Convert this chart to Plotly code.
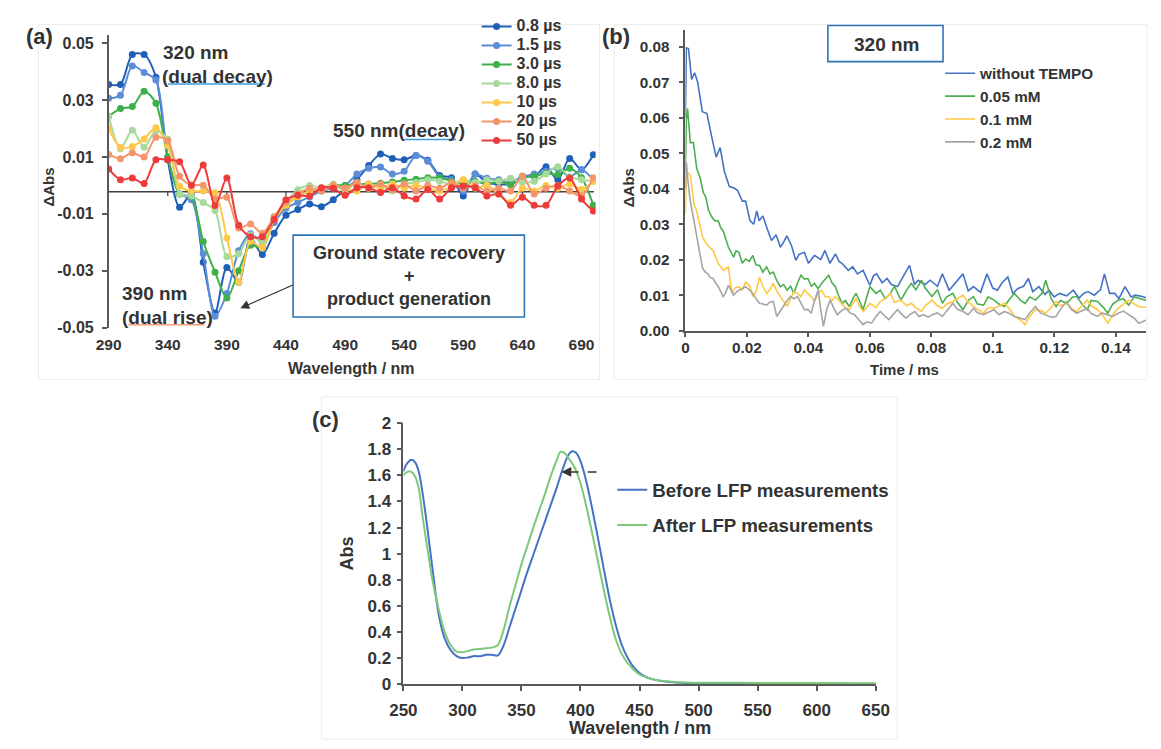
import plotly.graph_objects as go

W, H = 1161, 749
FONT = "Liberation Sans, Arial, sans-serif"
TXT = "#333333"
AX = "#595959"

# ---------------- Panel (a) data ----------------
wl_a = [290, 300, 310, 320, 330, 340, 350, 360, 370, 380, 390, 400, 410, 420, 430, 440, 450, 460, 470, 480,
        490, 500, 510, 520, 530, 540, 550, 560, 570, 580, 590, 600, 610, 620, 630, 640, 650, 660, 670, 680, 690, 700]
a_names = ["0.8 µs", "1.5 µs", "3.0 µs", "8.0 µs", "10 µs", "20 µs", "50 µs"]
a_colors = ["#1f5fb8", "#5b8ed6", "#3db04a", "#a6d99c", "#ffc84a", "#f4956b", "#ee3b3b"]
a_08 = [0.0355, 0.0355, 0.046, 0.046, 0.038, 0.009, -0.0077, -0.003, -0.027, -0.0448, -0.0288, -0.034, -0.0185, -0.0243,
        -0.0168, -0.0105, -0.0085, -0.0065, -0.0075, -0.005, -0.0015, 0.002, 0.007, 0.011, 0.0095, 0.009, 0.0105, 0.0088,
        0.0035, 0.0027, -0.0037, 0.004, 0.001, 0.0004, 0.0005, 0.0032, 0.0032, 0.0066, 0.002, 0.0095, 0.0055, 0.0108]
a_15 = [0.0306, 0.0317, 0.042, 0.0397, 0.037, 0.010, -0.003, -0.005, -0.024, -0.046, -0.038, -0.023, -0.017, -0.020,
        -0.013, -0.008, -0.006, -0.004, -0.002, -0.001, 0.000, 0.004, 0.006, 0.0065, 0.004, 0.005, 0.0105, 0.0085,
        0.003, 0.002, -0.002, 0.004, 0.0025, 0.002, 0.001, 0.003, 0.004, 0.005, 0.006, 0.003, 0.0055, 0.002]
a_30 = [0.0243, 0.027, 0.0277, 0.0331, 0.0289, 0.010, -0.003, -0.004, -0.0197, -0.0305, -0.0396, -0.030, -0.021, -0.022,
        -0.012, -0.007, -0.004, -0.002, -0.001, 0.000, 0.000, 0.0005, 0.0005, 0.0008, 0.0012, 0.0018, 0.0022, 0.0027,
        0.0027, 0.0015, 0.0005, 0.0015, 0.0004, 0.0015, 0.0002, 0.0027, 0.0032, 0.0043, 0.0038, 0.006, 0.0027, -0.007]
a_80 = [0.0243, 0.0129, 0.0194, 0.0134, 0.0192, 0.0163, -0.003, -0.0037, -0.006, -0.0088, -0.025, -0.024, -0.0174, -0.020,
        -0.011, -0.006, -0.0015, 0.000, -0.001, 0.0005, -0.002, 0.001, -0.001, 0.000, -0.002, 0.0005, 0.001, 0.002,
        0.0015, 0.0005, 0.002, 0.001, 0.002, 0.0015, 0.0025, 0.001, 0.0015, 0.004, 0.0066, 0.003, 0.002, 0.0015]
a_10 = [0.020, 0.0134, 0.0137, 0.0163, 0.0203, 0.014, -0.0003, -0.002, -0.002, -0.0026, -0.0185, -0.034, -0.0196, -0.022,
        -0.012, -0.007, -0.004, -0.002, -0.001, 0.000, -0.001, -0.002, 0.0005, -0.001, 0.0005, -0.001, 0.000, -0.001,
        -0.002, -0.0005, 0.002, -0.001, 0.000, -0.003, -0.006, -0.001, -0.002, 0.000, -0.001, 0.0005, -0.0014, 0.0015]
a_20 = [0.0109, 0.0094, 0.0115, 0.010, 0.0169, 0.0157, 0.0032, 0.0001, 0.0001, -0.0048, -0.0042, -0.015, -0.0136, -0.0168,
        -0.011, -0.006, -0.003, -0.001, -0.002, 0.000, -0.001, 0.001, -0.001, 0.0005, -0.0015, 0.0005, -0.002, 0.000,
        -0.001, 0.001, -0.001, 0.000, -0.002, -0.001, -0.002, 0.0032, -0.003, -0.001, 0.000, -0.002, -0.0037, 0.0027]
a_50 = [0.0058, 0.002, 0.0026, 0.0007, 0.009, 0.009, 0.0083, 0.0001, 0.0072, -0.0071, 0.0026, -0.014, -0.018, -0.018,
        -0.012, -0.005, -0.0035, -0.0037, -0.0008, -0.001, -0.0035, -0.0008, -0.0008, -0.0025, -0.0008, -0.0037, -0.0048,
        -0.0014, -0.0048, -0.0008, -0.0002, -0.0008, -0.0037, -0.003, -0.007, -0.0042, -0.007, -0.007, -0.0002, 0.0026,
        -0.0048, -0.009]
a_series = [a_08, a_15, a_30, a_80, a_10, a_20, a_50]
a_xticks = [290, 340, 390, 440, 490, 540, 590, 640, 690]
a_yticks = [-0.05, -0.03, -0.01, 0.01, 0.03, 0.05]
a_ytext = ["-0.05", "-0.03", "-0.01", "0.01", "0.03", "0.05"]
a_baseline = -0.0022

# ---------------- Panel (b) data ----------------
b_names = ["without TEMPO", "0.05 mM", "0.1 mM", "0.2 mM"]
b_colors = ["#4472c4", "#4caf50", "#ffc845", "#a5a5a5"]
t_blue = [0, 0.0003, 0.001, 0.002, 0.003, 0.004, 0.0055, 0.007, 0.0085, 0.010, 0.0113, 0.0127, 0.0143, 0.0159, 0.017,
          0.0185, 0.0196, 0.021, 0.0222, 0.0232, 0.024, 0.0252, 0.0265, 0.028, 0.0295, 0.0309, 0.032, 0.033, 0.0345,
          0.0359, 0.037, 0.0387, 0.040, 0.042, 0.044, 0.0454, 0.047, 0.0488, 0.050, 0.051, 0.053, 0.0544, 0.056, 0.0578,
          0.060, 0.0612, 0.0622, 0.064, 0.0656, 0.067, 0.069, 0.071, 0.0729, 0.0745, 0.0757, 0.078, 0.0796, 0.082,
          0.0836, 0.0858, 0.088, 0.0903, 0.092, 0.0937, 0.096, 0.0981, 0.100, 0.1015, 0.103, 0.1049, 0.1065, 0.1082,
          0.110, 0.1116, 0.113, 0.115, 0.117, 0.1183, 0.120, 0.1217, 0.124, 0.1262, 0.128, 0.1296, 0.131, 0.133, 0.135,
          0.1363, 0.138, 0.1397, 0.141, 0.143, 0.145, 0.1464, 0.1486, 0.150]
v_blue = [0.060, 0.0797, 0.0795, 0.0708, 0.0727, 0.070, 0.0617, 0.0612, 0.0548, 0.0489, 0.0516, 0.0448, 0.0406, 0.0402,
          0.0395, 0.0365, 0.0365, 0.031, 0.030, 0.0337, 0.031, 0.0323, 0.029, 0.0254, 0.027, 0.0235, 0.025, 0.0267,
          0.024, 0.0198, 0.0215, 0.0221, 0.019, 0.0212, 0.020, 0.0226, 0.019, 0.0216, 0.0195, 0.0189, 0.017, 0.018,
          0.016, 0.017, 0.0128, 0.0155, 0.016, 0.0135, 0.0147, 0.013, 0.0124, 0.0155, 0.0184, 0.013, 0.0142, 0.013,
          0.0142, 0.0125, 0.016, 0.0114, 0.0135, 0.016, 0.0112, 0.0124, 0.0108, 0.016, 0.012, 0.0114, 0.0135, 0.0151,
          0.0105, 0.0119, 0.0125, 0.0147, 0.011, 0.0124, 0.0102, 0.0114, 0.0095, 0.0105, 0.0098, 0.0114, 0.0092, 0.0105,
          0.011, 0.010, 0.0115, 0.016, 0.0105, 0.0105, 0.009, 0.0124, 0.0095, 0.010, 0.0096, 0.0092]
t_green = [0, 0.0003, 0.0007, 0.0016, 0.0026, 0.0037, 0.0048, 0.0058, 0.0067, 0.0075, 0.0084, 0.0095, 0.0107, 0.0115,
           0.0123, 0.014, 0.0157, 0.0165, 0.0174, 0.0185, 0.0196, 0.0208, 0.0219, 0.023, 0.0241, 0.0252, 0.0264, 0.0275,
           0.0286, 0.0298, 0.0309, 0.032, 0.0331, 0.0342, 0.0353, 0.0365, 0.0376, 0.0387, 0.0398, 0.041, 0.042, 0.0432,
           0.0443, 0.0455, 0.0466, 0.0477, 0.0488, 0.050, 0.051, 0.052, 0.0533, 0.0545, 0.0555, 0.0566, 0.0578, 0.059,
           0.060, 0.062, 0.0634, 0.065, 0.0667, 0.068, 0.0701, 0.072, 0.0735, 0.075, 0.0768, 0.078, 0.0802, 0.082,
           0.0836, 0.085, 0.087, 0.0885, 0.0903, 0.092, 0.0937, 0.095, 0.097, 0.0985, 0.1004, 0.102, 0.1038, 0.1055,
           0.1071, 0.109, 0.1105, 0.112, 0.1139, 0.116, 0.1172, 0.119, 0.1206, 0.122, 0.124, 0.126, 0.1273, 0.129,
           0.1307, 0.132, 0.1341, 0.136, 0.1374, 0.139, 0.1408, 0.1425, 0.1442, 0.146, 0.1475, 0.150]
v_green = [0.045, 0.0594, 0.0626, 0.053, 0.053, 0.0457, 0.043, 0.039, 0.0374, 0.034, 0.0323, 0.031, 0.0309, 0.029,
           0.0281, 0.0235, 0.0207, 0.0225, 0.0221, 0.019, 0.0202, 0.0195, 0.0212, 0.0185, 0.0184, 0.0165, 0.018, 0.016,
           0.0165, 0.014, 0.0124, 0.013, 0.0114, 0.0125, 0.0105, 0.0135, 0.0156, 0.0145, 0.0147, 0.0125, 0.0133, 0.0118,
           0.0133, 0.0145, 0.0156, 0.0135, 0.0124, 0.0095, 0.0077, 0.0085, 0.0068, 0.009, 0.0105, 0.0085, 0.0059, 0.0095,
           0.0124, 0.0105, 0.0114, 0.009, 0.0105, 0.0125, 0.0086, 0.0115, 0.0133, 0.0115, 0.0142, 0.012, 0.0096, 0.0115,
           0.0077, 0.0095, 0.0105, 0.008, 0.0059, 0.0085, 0.0096, 0.0075, 0.0072, 0.0095, 0.0086, 0.0075, 0.0068, 0.009,
           0.0105, 0.0085, 0.0077, 0.0095, 0.0086, 0.0105, 0.0142, 0.009, 0.0068, 0.0085, 0.0077, 0.0095, 0.0096, 0.0075,
           0.0059, 0.0085, 0.0082, 0.0065, 0.0049, 0.0075, 0.0086, 0.009, 0.0072, 0.0095, 0.0091, 0.0085]
t_yellow = [0, 0.0003, 0.0016, 0.0028, 0.0036, 0.0045, 0.0056, 0.0065, 0.0073, 0.009, 0.0098, 0.0107, 0.0115, 0.0123,
            0.014, 0.0151, 0.016, 0.0174, 0.0185, 0.0196, 0.021, 0.0219, 0.023, 0.0241, 0.0252, 0.0264, 0.0275, 0.0286,
            0.0298, 0.0309, 0.032, 0.0331, 0.0342, 0.0353, 0.0365, 0.0376, 0.0387, 0.0398, 0.041, 0.042, 0.0432, 0.0443,
            0.0455, 0.0466, 0.0477, 0.0488, 0.050, 0.051, 0.052, 0.0533, 0.0545, 0.0555, 0.0566, 0.0578, 0.059, 0.060,
            0.062, 0.0634, 0.065, 0.0667, 0.068, 0.0701, 0.072, 0.0735, 0.075, 0.0768, 0.078, 0.0802, 0.082, 0.0836,
            0.085, 0.087, 0.0885, 0.0903, 0.092, 0.0937, 0.095, 0.097, 0.0985, 0.1004, 0.102, 0.1038, 0.1055, 0.1071,
            0.109, 0.1105, 0.112, 0.1139, 0.116, 0.1172, 0.119, 0.1206, 0.122, 0.124, 0.126, 0.1273, 0.129, 0.1307,
            0.132, 0.1341, 0.136, 0.1374, 0.139, 0.1408, 0.1425, 0.1442, 0.146, 0.1475, 0.150]
v_yellow = [0.033, 0.045, 0.0438, 0.0356, 0.034, 0.0309, 0.0263, 0.025, 0.024, 0.0226, 0.021, 0.0189, 0.018, 0.017,
            0.018, 0.0105, 0.012, 0.0124, 0.0115, 0.0137, 0.0125, 0.0096, 0.011, 0.0151, 0.0125, 0.0105, 0.0115, 0.0133,
            0.011, 0.0096, 0.0085, 0.0068, 0.009, 0.011, 0.0105, 0.0096, 0.0115, 0.0105, 0.0095, 0.0082, 0.0105, 0.0114,
            0.0095, 0.0096, 0.0085, 0.0096, 0.0085, 0.0077, 0.0065, 0.0059, 0.0075, 0.0091, 0.007, 0.0054, 0.0065, 0.0077,
            0.0065, 0.0082, 0.009, 0.0105, 0.008, 0.0086, 0.007, 0.0077, 0.0065, 0.0054, 0.007, 0.0086, 0.007, 0.0063,
            0.0075, 0.0082, 0.009, 0.010, 0.008, 0.0068, 0.006, 0.0049, 0.0065, 0.0063, 0.007, 0.0077, 0.006, 0.004,
            0.003, 0.0017, 0.004, 0.0059, 0.0055, 0.0049, 0.0065, 0.0082, 0.007, 0.0077, 0.006, 0.0054, 0.007, 0.0086,
            0.007, 0.0059, 0.004, 0.0021, 0.0045, 0.0063, 0.0075, 0.0086, 0.0075, 0.0068, 0.0065]
t_gray = [0, 0.0003, 0.0008, 0.0015, 0.0022, 0.003, 0.0039, 0.0048, 0.0056, 0.0065, 0.0073, 0.008, 0.009, 0.0098,
          0.0107, 0.0115, 0.0123, 0.013, 0.014, 0.0148, 0.0157, 0.0165, 0.0174, 0.0185, 0.0196, 0.0208, 0.0219, 0.023,
          0.0241, 0.0252, 0.0264, 0.0275, 0.0286, 0.0297, 0.0308, 0.032, 0.0331, 0.0342, 0.0353, 0.0365, 0.0376, 0.0387,
          0.0398, 0.0409, 0.042, 0.0432, 0.044, 0.0449, 0.046, 0.0471, 0.0482, 0.0494, 0.051, 0.0522, 0.0535, 0.055,
          0.0565, 0.0578, 0.059, 0.0606, 0.062, 0.0634, 0.065, 0.0662, 0.0675, 0.069, 0.0705, 0.0718, 0.073, 0.0746,
          0.076, 0.0774, 0.079, 0.0802, 0.082, 0.0836, 0.085, 0.087, 0.0885, 0.0903, 0.092, 0.0937, 0.095, 0.097,
          0.0985, 0.1004, 0.102, 0.1038, 0.1055, 0.1071, 0.109, 0.1105, 0.112, 0.1139, 0.1155, 0.1172, 0.119, 0.1206,
          0.122, 0.124, 0.1255, 0.1273, 0.129, 0.1307, 0.132, 0.1341, 0.1355, 0.1374, 0.139, 0.1408, 0.1425, 0.1442,
          0.146, 0.1475, 0.150]
v_gray = [0.040, 0.0475, 0.0425, 0.037, 0.0337, 0.030, 0.0263, 0.021, 0.0175, 0.0165, 0.0161, 0.015, 0.0147, 0.0135,
          0.0124, 0.011, 0.0096, 0.0105, 0.0128, 0.0115, 0.010, 0.0108, 0.0114, 0.0118, 0.0124, 0.0115, 0.0105, 0.009,
          0.0077, 0.0075, 0.0072, 0.008, 0.0082, 0.004, 0.0055, 0.0068, 0.0085, 0.0096, 0.009, 0.0096, 0.0075, 0.0059,
          0.006, 0.0049, 0.0085, 0.0114, 0.006, 0.0012, 0.006, 0.0086, 0.0065, 0.0045, 0.0058, 0.0063, 0.005, 0.0045,
          0.003, 0.0017, 0.0025, 0.0021, 0.004, 0.0054, 0.004, 0.0031, 0.0045, 0.0059, 0.0045, 0.0035, 0.0045, 0.0054,
          0.004, 0.0045, 0.0038, 0.0045, 0.005, 0.004, 0.0055, 0.0077, 0.006, 0.0054, 0.0045, 0.0063, 0.005, 0.0045,
          0.0052, 0.0059, 0.0045, 0.0054, 0.0048, 0.004, 0.0035, 0.0031, 0.005, 0.0068, 0.005, 0.0045, 0.0038, 0.004,
          0.006, 0.0082, 0.006, 0.0049, 0.0055, 0.0063, 0.0048, 0.004, 0.005, 0.0045, 0.004, 0.0049, 0.0055, 0.0045,
          0.0035, 0.0021, 0.003]
b_t = [t_blue, t_green, t_yellow, t_gray]
b_v = [v_blue, v_green, v_yellow, v_gray]
b_xticks = [0, 0.02, 0.04, 0.06, 0.08, 0.1, 0.12, 0.14]
b_xtext = ["0", "0.02", "0.04", "0.06", "0.08", "0.1", "0.12", "0.14"]
b_yticks = [0, 0.01, 0.02, 0.03, 0.04, 0.05, 0.06, 0.07, 0.08]
b_ytext = ["0.00", "0.01", "0.02", "0.03", "0.04", "0.05", "0.06", "0.07", "0.08"]

# ---------------- Panel (c) data ----------------
c_names = ["Before LFP measurements", "After LFP measurements"]
c_colors = ["#4472c4", "#7cc97c"]
wl_before = [250, 253, 257, 260, 263, 266, 270, 275, 280, 285, 290, 295, 300, 305, 310, 315, 320, 325, 330, 335, 340,
             345, 350, 355, 360, 365, 370, 375, 380, 385, 390, 393, 396, 400, 405, 410, 415, 420, 425, 430, 435, 440,
             445, 450, 455, 460, 470, 480, 490, 500, 525, 550, 600, 650]
abs_before = [1.63, 1.69, 1.72, 1.70, 1.63, 1.48, 1.22, 0.86, 0.53, 0.35, 0.26, 0.215, 0.20, 0.205, 0.215, 0.213, 0.225,
              0.225, 0.22, 0.30, 0.44, 0.58, 0.72, 0.86, 0.99, 1.12, 1.25, 1.38, 1.51, 1.65, 1.76, 1.785, 1.775, 1.71,
              1.55, 1.34, 1.11, 0.87, 0.64, 0.45, 0.30, 0.20, 0.13, 0.085, 0.057, 0.04, 0.022, 0.013, 0.008, 0.006,
              0.004, 0.003, 0.002, 0.001]
wl_after = [250, 253, 256, 260, 263, 266, 270, 275, 280, 285, 290, 295, 300, 305, 310, 315, 320, 325, 330, 335, 340,
            345, 350, 355, 360, 365, 370, 375, 380, 383, 386, 390, 395, 400, 405, 410, 415, 420, 425, 430, 435, 440,
            445, 450, 455, 460, 470, 480, 490, 500, 525, 550, 600, 650]
abs_after = [1.60, 1.625, 1.63, 1.59, 1.50, 1.30, 1.06, 0.78, 0.57, 0.40, 0.30, 0.25, 0.245, 0.255, 0.265, 0.27, 0.275,
             0.28, 0.30, 0.42, 0.60, 0.76, 0.92, 1.06, 1.20, 1.33, 1.46, 1.60, 1.72, 1.78, 1.775, 1.73, 1.66, 1.54,
             1.36, 1.15, 0.93, 0.71, 0.51, 0.34, 0.23, 0.16, 0.11, 0.075, 0.055, 0.04, 0.025, 0.017, 0.013, 0.011,
             0.010, 0.009, 0.008, 0.007]
c_series = [(wl_before, abs_before), (wl_after, abs_after)]


def PX(x):
    return x / W


def PY(y):
    return 1 - y / H


fig = go.Figure()

for name, vals, col in zip(a_names, a_series, a_colors):
    fig.add_trace(go.Scatter(x=wl_a, y=vals, name='<span style="font-size:16px">' + name + '</span>',
                             mode="lines+markers",
                             line=dict(color=col, width=2, shape="spline", smoothing=0.8),
                             marker=dict(color=col, size=7),
                             xaxis="x", yaxis="y", legend="legend"))

for name, tt, vv, col in zip(b_names, b_t, b_v, b_colors):
    fig.add_trace(go.Scatter(x=tt, y=vv, name=name, mode="lines",
                             line=dict(color=col, width=1.6),
                             xaxis="x2", yaxis="y2", legend="legend2"))

for name, (xx, yy), col in zip(c_names, c_series, c_colors):
    fig.add_trace(go.Scatter(x=xx, y=yy, name=name, mode="lines",
                             line=dict(color=col, width=2, shape="spline", smoothing=1.0),
                             xaxis="x3", yaxis="y3", legend="legend3", legendgroup=name))

tick_ax = dict(family=FONT, size=15.5, color=TXT, weight="bold")
tick_ay = dict(family=FONT, size=16, color=TXT, weight="bold")
tick_b = dict(family=FONT, size=15.3, color=TXT, weight="bold")
tick_c = dict(family=FONT, size=17, color=TXT, weight="bold")
common_ax = dict(showgrid=False, zeroline=False, fixedrange=True)

a_xr = [290, 290 + (596 - 97) / 1.2113]
a_yr = [-0.05, -0.05 + 300 / 2920]

fig.update_layout(
    width=W, height=H, margin=dict(l=0, r=0, t=0, b=0), autosize=False,
    paper_bgcolor="white", plot_bgcolor="rgba(0,0,0,0)",
    font=dict(family=FONT, color=TXT),
    xaxis=dict(domain=[PX(97), PX(596)], range=a_xr, tickvals=a_xticks, ticks="", showline=False,
               tickfont=tick_ax, ticklabelstandoff=6, anchor="y", **common_ax),
    yaxis=dict(domain=[PY(327), PY(27)], range=a_yr, tickvals=a_yticks, ticktext=a_ytext,
               showline=True, linecolor=AX, linewidth=1.5, ticks="outside", ticklen=5, tickcolor=AX,
               tickwidth=1.5, tickfont=tick_ay, ticklabelstandoff=5, anchor="x", **common_ax),
    xaxis2=dict(domain=[PX(688), PX(1160)], range=[0, (1160 - 688) / 3150], tickvals=b_xticks, ticktext=b_xtext,
                showline=True, linecolor=AX, linewidth=1.5, ticks="outside", ticklen=5, tickcolor=AX, tickwidth=1.5,
                tickfont=tick_b, ticklabelstandoff=-3, anchor="y2", **common_ax),
    yaxis2=dict(domain=[PY(330), PY(22)], range=[0, 308 / 3640], tickvals=b_yticks, ticktext=b_ytext,
                showline=True, linecolor=AX, linewidth=1.5, ticks="outside", ticklen=5, tickcolor=AX, tickwidth=1.5,
                tickfont=tick_b, ticklabelstandoff=6, anchor="x2", **common_ax),
    xaxis3=dict(domain=[PX(399), PX(883)], range=[250, 650], dtick=50, tick0=250,
                showline=True, linecolor=AX, linewidth=1.5, ticks="outside", ticklen=5, tickcolor=AX, tickwidth=1.5,
                tickfont=tick_c, ticklabelstandoff=5, anchor="y3", **common_ax),
    yaxis3=dict(domain=[PY(692.7), PY(425)], range=[0, 2], dtick=0.2, tick0=0,
                showline=True, linecolor=AX, linewidth=1.5, ticks="outside", ticklen=5, tickcolor=AX, tickwidth=1.5,
                tickfont=tick_c, ticklabelstandoff=2, anchor="x3", **common_ax),
    legend=dict(x=PX(474), y=PY(3), xanchor="left", yanchor="top", bgcolor="rgba(0,0,0,0)",
                font=dict(family=FONT, size=12, color=TXT, weight="bold"), itemwidth=30,
                tracegroupgap=0),
    legend2=dict(x=PX(949), y=PY(49), xanchor="left", yanchor="top", bgcolor="rgba(0,0,0,0)",
                 font=dict(family=FONT, size=15.3, color=TXT, weight="bold"), itemwidth=30,
                 tracegroupgap=0),
    legend3=dict(x=PX(613), y=PY(474), xanchor="left", yanchor="top", bgcolor="rgba(0,0,0,0)",
                 font=dict(family=FONT, size=18.7, color=TXT, weight="bold"), itemwidth=30,
                 tracegroupgap=8),
)

shapes = []
# faint panel frames
for (x0, y0, x1, y1) in [(25, 16, 600, 380), (615, 16, 1161, 380), (315, 398, 905, 749)]:
    shapes.append(dict(type="rect", xref="paper", yref="paper", x0=PX(x0), y0=PY(y0), x1=PX(x1), y1=PY(y1),
                       line=dict(color="#ececec", width=1), layer="below"))
# panel (a) horizontal axis line and its tick marks
shapes.append(dict(type="line", xref="x", yref="y", x0=a_xr[0], x1=a_xr[1] - 1.5, y0=a_baseline, y1=a_baseline,
                   line=dict(color="#404040", width=1.5), layer="below"))
for tv in a_xticks[1:]:
    shapes.append(dict(type="line", xref="x", yref="y", x0=tv, x1=tv, y0=a_baseline, y1=a_baseline - 0.0015,
                       line=dict(color="#404040", width=1.2), layer="below"))
# underlines
for (x0, x1, y, col) in [(158, 257, 77, "#3b9ae1"), (400, 453, 134, "#3b9ae1"), (117, 195, 324, "#f4a07a")]:
    shapes.append(dict(type="line", xref="paper", yref="paper", x0=PX(x0), x1=PX(x1), y0=PY(y), y1=PY(y),
                       line=dict(color=col, width=1.5)))
# boxes
shapes.append(dict(type="rect", xref="paper", yref="paper", x0=PX(286), y0=PY(316), x1=PX(523), y1=PY(232),
                   line=dict(color="#2e75b6", width=1.6), fillcolor="white"))
shapes.append(dict(type="rect", xref="paper", yref="paper", x0=PX(834), y0=PY(54), x1=PX(952), y1=PY(17),
                   line=dict(color="#2e75b6", width=1.6), fillcolor="white"))
# dashed arrow shaft (c)
shapes.append(dict(type="line", xref="paper", yref="paper", x0=PX(597), x1=PX(568), y0=PY(475), y1=PY(475),
                   line=dict(color="#333333", width=1.5, dash="dash")))
fig.update_layout(shapes=shapes)

ann = []


def txt(x, y, s, size, xanchor="center", angle=0):
    ann.append(dict(x=PX(x), y=PY(y), xref="paper", yref="paper", text=s, showarrow=False, xanchor=xanchor,
                    yanchor="middle", textangle=angle,
                    font=dict(family=FONT, size=size, color=TXT, weight="bold")))


txt(26, 28, "(a)", 22)
txt(617, 28, "(b)", 22)
txt(319, 421, "(c)", 22)
txt(151, 45, "320 nm", 19, "left")
txt(150, 69, "(dual decay)", 19, "left")
txt(325, 125, "550 nm(decay)", 19, "left")
txt(109, 292, "390 nm", 19, "left")
txt(109, 317, "(dual rise)", 19, "left")
txt(405, 250, "Ground state recovery", 18)
txt(405, 274, "+", 18)
txt(405, 298, "product generation", 18)
txt(894, 36, "320 nm", 19)
txt(35, 183, "ΔAbs", 15, angle=-90)
txt(346, 369, "Wavelength / nm", 16)
txt(630, 183, "ΔAbs", 15, angle=-90)
txt(913, 370, "Time / ms", 15)
txt(341, 559, "Abs", 18, angle=-90)
ann.append(dict(x=PX(641), y=0, xref="paper", yref="paper", text="Wavelength / nm", showarrow=False,
                xanchor="center", yanchor="bottom", yshift=-1,
                font=dict(family=FONT, size=18, color=TXT, weight="bold")))
# arrows (tail offsets in pixels)
ann.append(dict(x=PX(232), y=PY(307), ax=286 - 232, ay=283 - 307, xref="paper", yref="paper",
                axref="pixel", ayref="pixel", text="", showarrow=True, arrowhead=2, arrowsize=1.6,
                arrowwidth=1.1, arrowcolor="#333333"))
ann.append(dict(x=PX(561), y=PY(475), ax=11, ay=0, xref="paper", yref="paper",
                axref="pixel", ayref="pixel", text="", showarrow=True, arrowhead=2, arrowsize=1.3,
                arrowwidth=1.5, arrowcolor="#333333"))
fig.update_layout(annotations=ann)

fig.write_html("out.html")
